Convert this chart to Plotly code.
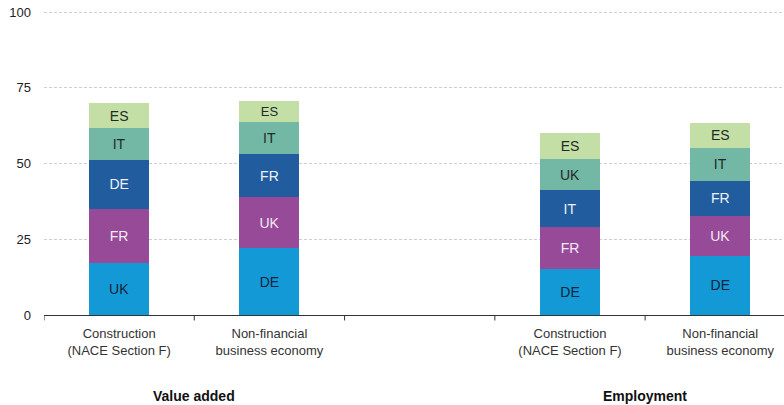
import plotly.graph_objects as go

# Category slots along the x axis (slot 2 is an empty spacer between groups)
categories = [
    "Construction<br>(NACE Section F)",
    "Non-financial<br>business economy",
    "",
    "Construction<br>(NACE Section F)",
    "Non-financial<br>business economy",
]
groups = ["Value added", "Employment"]

# Stack layers from bottom to top: country label and share (%) per slot
layer1_names = ["UK", "DE", "", "DE", "DE"]
layer1_vals = [17.3, 22.1, None, 15.3, 19.5]
layer2_names = ["FR", "UK", "", "FR", "UK"]
layer2_vals = [17.7, 16.8, None, 13.7, 13.2]
layer3_names = ["DE", "FR", "", "IT", "FR"]
layer3_vals = [16.2, 14.3, None, 12.3, 11.6]
layer4_names = ["IT", "IT", "", "UK", "IT"]
layer4_vals = [10.6, 10.6, None, 10.2, 11.0]
layer5_names = ["ES", "ES", "", "ES", "ES"]
layer5_vals = [8.1, 6.9, None, 8.5, 8.1]

y_ticks = [0, 25, 50, 75, 100]

layers = [
    (layer1_names, layer1_vals, "#1399d6", "#14233a"),
    (layer2_names, layer2_vals, "#974a98", "#f3e9f3"),
    (layer3_names, layer3_vals, "#215c9e", "#eef2f8"),
    (layer4_names, layer4_vals, "#72b8a5", "#1e2b28"),
    (layer5_names, layer5_vals, "#c4dfa5", "#1e2b28"),
]

FONT = "Liberation Sans Narrow, Arial Narrow, Liberation Sans, Arial, sans-serif"
x_idx = list(range(len(categories)))

fig = go.Figure()
for names, vals, color, tcolor in layers:
    fig.add_trace(go.Bar(
        x=x_idx,
        y=vals,
        text=names,
        textposition="inside",
        insidetextanchor="middle",
        textangle=0,
        textfont=dict(family=FONT, size=14, color=tcolor),
        marker=dict(color=color, line=dict(width=0)),
        width=0.4,
        hoverinfo="skip",
        showlegend=False,
    ))

fig.update_layout(
    barmode="stack",
    width=784,
    height=405,
    margin=dict(l=44, r=0, t=11, b=90),
    paper_bgcolor="white",
    plot_bgcolor="white",
    font=dict(family=FONT, size=13, color="#333333"),
    xaxis=dict(
        tickmode="array",
        tickvals=x_idx,
        ticktext=categories,
        range=[-0.5, 4.424],
        showgrid=False,
        showline=True,
        linecolor="#333333",
        linewidth=1,
        ticks="",
        ticklabelstandoff=6,
        tickfont=dict(family=FONT, size=13, color="#333333"),
        zeroline=False,
    ),
    yaxis=dict(
        range=[0, 100.4],
        tickvals=y_ticks,
        showgrid=True,
        gridcolor="#cfcfcf",
        griddash="3px,2px",
        gridwidth=1,
        zeroline=False,
        showline=False,
        ticks="",
        ticklabelstandoff=12,
        tickfont=dict(family=FONT, size=13, color="#222222"),
    ),
)

# Boundary tick marks under the axis line
for b in [-0.5, 0.5, 1.5, 2.5, 3.5]:
    fig.add_shape(type="line", xref="x", yref="paper", x0=b, x1=b, y0=0, y1=-0.018,
                  line=dict(color="#333333", width=1))

# Group titles below the category labels
for xg, label in zip([0.5, 3.5], groups):
    fig.add_annotation(x=xg, xref="x", y=-0.265, yref="paper", text=f"<b>{label}</b>",
                       showarrow=False, yanchor="middle",
                       font=dict(family=FONT, size=14, color="#111111"))

fig.write_html("out.html")
